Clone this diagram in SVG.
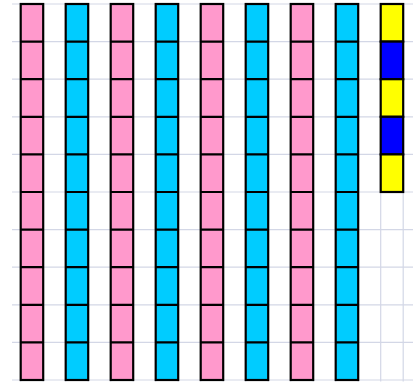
<svg xmlns="http://www.w3.org/2000/svg" width="420" height="382" viewBox="0 0 420 382">
<style>
.g{stroke:#d3d7e6;stroke-width:1.2;fill:none}
.c{stroke:#000;stroke-width:2.2;stroke-linejoin:miter}
.p{fill:#ff99cc}.b{fill:#00ccff}.y{fill:#ffff00}.u{fill:#0000ff}
</style>
<defs>
<g id="colP"><rect class="c p" x="0" y="0" width="22.5" height="376"/><path class="c" d="M0 37.6H22.5M0 75.2H22.5M0 112.8H22.5M0 150.4H22.5M0 188H22.5M0 225.6H22.5M0 263.2H22.5M0 300.8H22.5M0 338.4H22.5"/></g>
<g id="colB"><rect class="c b" x="0" y="0" width="22.5" height="376"/><path class="c" d="M0 37.6H22.5M0 75.2H22.5M0 112.8H22.5M0 150.4H22.5M0 188H22.5M0 225.6H22.5M0 263.2H22.5M0 300.8H22.5M0 338.4H22.5"/></g>
</defs>
<g id="grid">
<path class="g" d="M12 4H413M12 41.6H413M12 79.2H413M12 116.8H413M12 154.4H413M12 192H413M12 229.6H413M12 267.2H413M12 304.8H413M12 342.4H413M12 380H413"/>
<path class="g" d="M20.7 4V381.5M43.2 4V381.5M65.7 4V381.5M88.2 4V381.5M110.7 4V381.5M133.2 4V381.5M155.7 4V381.5M178.2 4V381.5M200.7 4V381.5M223.2 4V381.5M245.7 4V381.5M268.2 4V381.5M290.7 4V381.5M313.2 4V381.5M335.7 4V381.5M358.2 4V381.5M380.7 4V381.5M403.2 4V381.5"/>
</g>
<g id="col1" transform="translate(20.7,4)"><use href="#colP"/></g>
<g id="col2" transform="translate(65.7,4)"><use href="#colB"/></g>
<g id="col3" transform="translate(110.7,4)"><use href="#colP"/></g>
<g id="col4" transform="translate(155.7,4)"><use href="#colB"/></g>
<g id="col5" transform="translate(200.7,4)"><use href="#colP"/></g>
<g id="col6" transform="translate(245.7,4)"><use href="#colB"/></g>
<g id="col7" transform="translate(290.7,4)"><use href="#colP"/></g>
<g id="col8" transform="translate(335.7,4)"><use href="#colB"/></g>
<g id="col9" transform="translate(380.7,4)">
<rect class="c y" x="0" y="0" width="22.5" height="37.6"/>
<rect class="c u" x="0" y="37.6" width="22.5" height="37.6"/>
<rect class="c y" x="0" y="75.2" width="22.5" height="37.6"/>
<rect class="c u" x="0" y="112.8" width="22.5" height="37.6"/>
<rect class="c y" x="0" y="150.4" width="22.5" height="37.6"/>
</g>
</svg>
